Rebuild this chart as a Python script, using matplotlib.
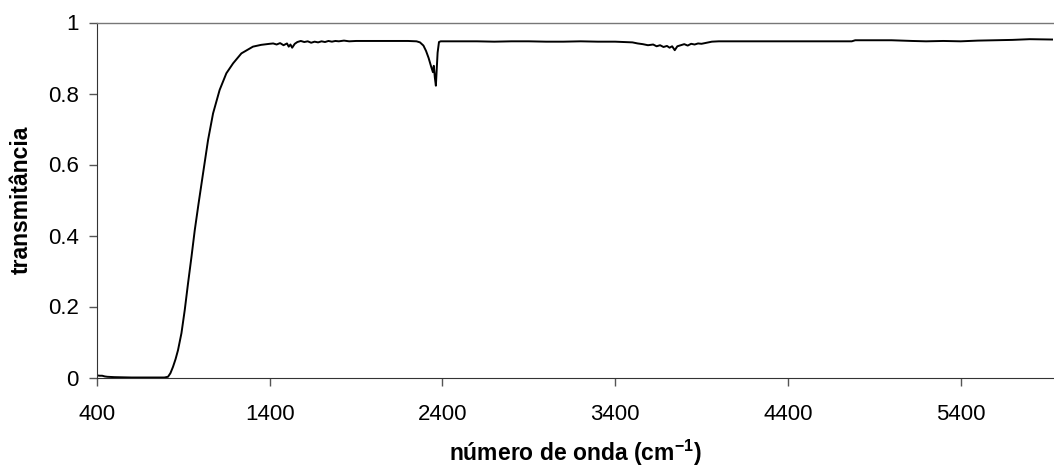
import matplotlib
matplotlib.use("Agg")
import matplotlib.pyplot as plt

plt.rcParams['font.family'] = ['Liberation Sans', 'DejaVu Sans']
plt.rcParams['mathtext.fontset'] = 'custom'
plt.rcParams['mathtext.rm'] = 'Liberation Sans'
plt.rcParams['mathtext.bf'] = 'Liberation Sans:bold'

# wavenumber (cm^-1) and transmittance
wavenumber = [
    400, 415, 430, 445, 460, 500, 600, 700, 790, 811, 825, 840, 855, 869,
    889, 908, 927, 947, 966, 988, 1014, 1043, 1072, 1110, 1149, 1188, 1236,
    1303, 1350, 1400, 1420, 1440, 1460, 1480, 1500, 1510, 1520, 1530, 1545,
    1560, 1580, 1600, 1620, 1640, 1660, 1680, 1700, 1720, 1740, 1760, 1780,
    1800, 1830, 1860, 1900, 1950, 2000, 2100, 2200, 2250, 2270, 2290, 2305,
    2320, 2335, 2345, 2350, 2356, 2362, 2366, 2372, 2380, 2390, 2400, 2500,
    2600, 2700, 2800, 2900, 3000, 3100, 3200, 3300, 3400, 3450, 3500, 3530,
    3560, 3590, 3620, 3640, 3660, 3680, 3700, 3715, 3730, 3745, 3760, 3780,
    3800, 3820, 3840, 3860, 3880, 3900, 3930, 3960, 4000, 4200, 4400, 4600,
    4770, 4790, 5000, 5120, 5200, 5300, 5400, 5500, 5600, 5700, 5800, 5935,
]
transmittance = [
    0.006, 0.005, 0.005, 0.003, 0.002, 0.001, 0.000, 0.000, 0.000, 0.002,
    0.012, 0.030, 0.052, 0.077, 0.125, 0.190, 0.265, 0.340, 0.415, 0.490,
    0.575, 0.669, 0.744, 0.810, 0.857, 0.885, 0.913, 0.932, 0.937, 0.940,
    0.941, 0.938, 0.942, 0.936, 0.941, 0.932, 0.938, 0.929, 0.940, 0.945,
    0.948, 0.945, 0.947, 0.943, 0.946, 0.944, 0.947, 0.945, 0.948, 0.946,
    0.948, 0.947, 0.949, 0.947, 0.948, 0.948, 0.948, 0.948, 0.948, 0.947,
    0.944, 0.935, 0.920, 0.900, 0.875, 0.860, 0.878, 0.845, 0.822, 0.860,
    0.915, 0.945, 0.947, 0.947, 0.947, 0.947, 0.946, 0.947, 0.947, 0.946,
    0.946, 0.947, 0.946, 0.946, 0.945, 0.944, 0.941, 0.939, 0.936, 0.938,
    0.933, 0.936, 0.931, 0.934, 0.929, 0.933, 0.922, 0.933, 0.936, 0.939,
    0.935, 0.940, 0.938, 0.941, 0.940, 0.943, 0.946, 0.947, 0.947, 0.947,
    0.947, 0.947, 0.950, 0.950, 0.948, 0.947, 0.948, 0.947, 0.949, 0.950,
    0.951, 0.953, 0.952,
]

xticks = [400, 1400, 2400, 3400, 4400, 5400]
yticks = [0, 0.2, 0.4, 0.6, 0.8, 1]
ytick_labels = ["0", "0.2", "0.4", "0.6", "0.8", "1"]

fig = plt.figure(figsize=(10.54, 4.72), dpi=100)
ax = fig.add_axes([97 / 1054, 1 - 377.5 / 472, (1053 - 97) / 1054, (377.5 - 22.5) / 472])

ax.plot(wavenumber, transmittance, color="black", linewidth=1.4)

ax.set_xlim(400, 5935)
ax.set_ylim(0, 1)
ax.set_xticks(xticks)
ax.set_yticks(yticks)
ax.set_yticklabels(ytick_labels)

ax.tick_params(axis="both", direction="out", length=6, width=1, color="#555555",
               labelsize=16, labelcolor="black")
ax.tick_params(axis="x", pad=13)
ax.tick_params(axis="y", pad=7)

ax.spines["right"].set_visible(False)
ax.spines["top"].set_color("#777777")
ax.spines["top"].set_linewidth(1.0)
ax.spines["left"].set_color("#333333")
ax.spines["bottom"].set_color("#333333")

ax.set_xlabel("número de onda (cm$^{\\mathbf{-1}}$)", fontsize=16.5, fontweight="bold", labelpad=9)
ax.set_ylabel("transmitância", fontsize=16.5, fontweight="bold", labelpad=11)

fig.savefig("out.png", dpi=100)
